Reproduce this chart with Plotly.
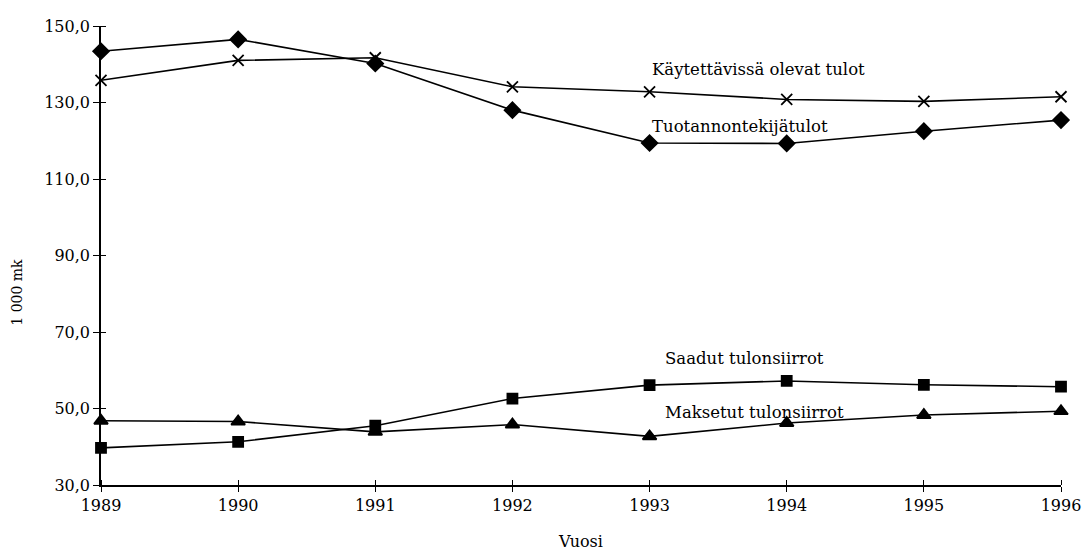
import plotly.graph_objects as go

years = [1989, 1990, 1991, 1992, 1993, 1994, 1995, 1996]
kaytettavissa = [135.8, 141.0, 141.7, 134.1, 132.8, 130.8, 130.3, 131.5]
tuotannontekija = [143.4, 146.5, 140.2, 128.0, 119.4, 119.3, 122.5, 125.4]
saadut = [39.7, 41.3, 45.5, 52.6, 56.1, 57.2, 56.2, 55.7]
maksetut = [46.8, 46.6, 43.9, 45.8, 42.7, 46.2, 48.3, 49.3]

labels = ["Käytettävissä olevat tulot", "Tuotannontekijätulot",
          "Saadut tulonsiirrot", "Maksetut tulonsiirrot"]
y_ticks = [30, 50, 70, 90, 110, 130, 150]
y_title = "1 000 mk"
x_title = "Vuosi"

FONT = "DejaVu Serif"
fig = go.Figure()

series = [
    (kaytettavissa, "x-thin", 11, labels[0]),
    (tuotannontekija, "diamond", 12, labels[1]),
    (saadut, "square", 10, labels[2]),
    (maksetut, "triangle-up", 12, labels[3]),
]
for vals, sym, size, name in series:
    fig.add_trace(go.Scatter(
        x=years, y=vals, mode="lines+markers", name=name,
        line=dict(color="black", width=1.6),
        marker=dict(symbol=sym, size=size, color="black",
                    line=dict(color="black", width=1.8)),
        cliponaxis=False, showlegend=False,
    ))

# series labels
ann = [
    (labels[0], 1993.0, 138.5),
    (labels[1], 1993.0, 123.6),
    (labels[2], 1993.1, 63.1),
    (labels[3], 1993.1, 49.0),
]
for text, x, y in ann:
    fig.add_annotation(x=x, y=y, text=text, showarrow=False,
                       xanchor="left", yanchor="middle",
                       font=dict(family=FONT, size=16.5, color="black"))

# y-axis title placed like in the reference (slightly below centre)
fig.add_annotation(xref="paper", yref="paper", x=-0.087, y=0.42, text=y_title,
                   textangle=-90, showarrow=False, xanchor="center", yanchor="middle",
                   font=dict(family=FONT, size=14, color="black"))

fig.update_layout(
    width=1086, height=551,
    margin=dict(l=101, r=25, t=26, b=66),
    paper_bgcolor="white", plot_bgcolor="white",
    separators=", ",
    font=dict(family=FONT, size=15, color="black"),
    xaxis=dict(
        range=[1989, 1996], tickvals=years, ticktext=[str(y) for y in years],
        automargin=False,
        showgrid=False, zeroline=False, showline=True, linecolor="black", linewidth=1.6,
        ticks="outside", ticklen=5, tickcolor="black", tickwidth=1.2,
        minor=dict(ticks="inside", tickvals=years, ticklen=5, tickcolor="black", tickwidth=1.2),
        title=dict(text=x_title, font=dict(family=FONT, size=16), standoff=22),
        tickfont=dict(family=FONT, size=16),
    ),
    yaxis=dict(
        range=[30, 150], tickvals=y_ticks, tickformat=".1f",
        automargin=False,
        showgrid=False, zeroline=False, showline=True, linecolor="black", linewidth=1.6,
        ticks="outside", ticklen=6, tickcolor="black", tickwidth=1.2,
        minor=dict(ticks="inside", tickvals=y_ticks, ticklen=5, tickcolor="black", tickwidth=1.2),
        tickfont=dict(family=FONT, size=16),
    ),
)

fig.write_html("out.html", config={"displayModeBar": False},
               post_script="document.body.style.margin='0';document.body.style.overflow='hidden';")
